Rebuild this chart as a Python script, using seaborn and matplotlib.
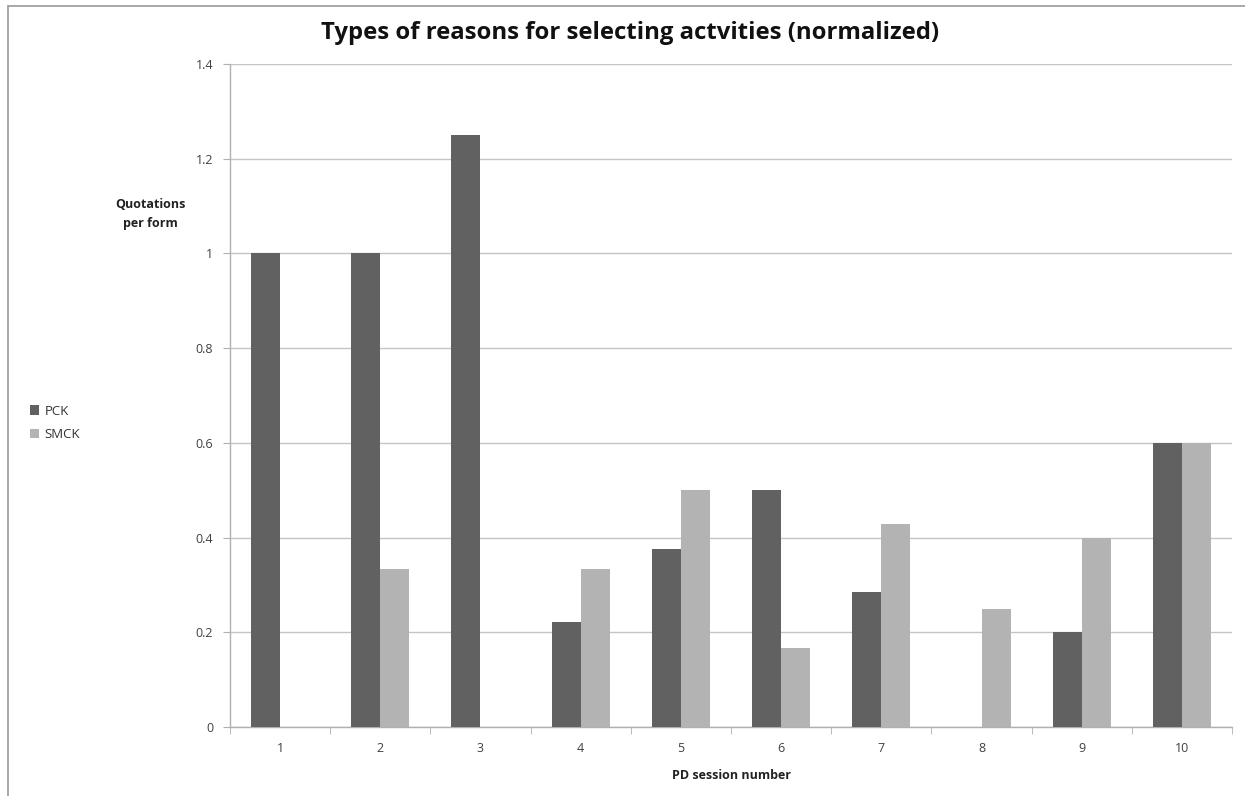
import pandas as pd
import numpy as np
import seaborn as sns
import matplotlib.pyplot as plt
from matplotlib.lines import Line2D

# Chart data
sessions = ['1', '2', '3', '4', '5', '6', '7', '8', '9', '10']
pck = [1.0, 1.0, 1.25, 0.222, 0.375, 0.5, 0.286, 0.0, 0.2, 0.6]
smck = [0.0, 0.333, 0.0, 0.333, 0.5, 0.167, 0.429, 0.25, 0.4, 0.6]
series_names = ['PCK', 'SMCK']
y_ticks = [0, 0.2, 0.4, 0.6, 0.8, 1, 1.2, 1.4]

df = pd.DataFrame({
    'session': sessions * 2,
    'value': pck + smck,
    'type': [series_names[0]] * len(sessions) + [series_names[1]] * len(sessions),
})

sns.set_style('white')
plt.rcParams['font.family'] = ['Open Sans', 'DejaVu Sans']

fig = plt.figure(figsize=(12.45, 7.96), dpi=100)
ax = fig.add_axes([0.1847, 0.0867, 0.8049, 0.8329])

palette = {'PCK': '#616161', 'SMCK': '#b3b3b3'}
sns.barplot(data=df, x='session', y='value', hue='type', order=sessions,
            hue_order=series_names, palette=palette, width=0.58,
            saturation=1, edgecolor='none', legend=True, ax=ax, zorder=3)

ax.set_ylim(0, 1.4)
ax.set_xlim(-0.5, len(sessions) - 0.5)
ax.set_yticks(y_ticks)
ax.set_yticklabels(['0', '0.2', '0.4', '0.6', '0.8', '1', '1.2', '1.4'])
ax.yaxis.grid(True, color='#c4c4c4', linewidth=1, zorder=0)
ax.set_axisbelow(True)

# ticks between categories
ax.set_xticks(np.arange(-0.5, len(sessions)), minor=True)
ax.tick_params(axis='x', which='major', length=0, pad=11, labelsize=9, labelcolor='#404040')
ax.tick_params(axis='x', which='minor', length=5, color='#b0b0b0', direction='out', bottom=True)
ax.tick_params(axis='y', length=5, color='#b0b0b0', direction='out', left=True,
               labelsize=9, labelcolor='#404040', pad=7)

for side in ['top', 'right']:
    ax.spines[side].set_visible(False)
for side in ['left', 'bottom']:
    ax.spines[side].set_color('#b0b0b0')
    ax.spines[side].set_linewidth(1)

ax.set_xlabel('PD session number', fontsize=9, fontweight='bold', color='#222222', labelpad=10)
ax.set_ylabel('')
fig.text(150 / 1245, 1 - 214 / 796, 'Quotations\nper form', ha='center', va='center',
         fontsize=9, fontweight='bold', color='#222222', linespacing=1.6)

fig.suptitle('Types of reasons for selecting actvities (normalized)', x=630 / 1245,
             y=1 - 33 / 796, va='center', fontsize=17.2, fontweight='bold', color='#111111')

leg = ax.legend(loc='center left', bbox_to_anchor=(18 / 1245, 1 - 423 / 796),
                bbox_transform=fig.transFigure, frameon=False, fontsize=9.5,
                handlelength=0.7, handleheight=0.7, handletextpad=0.4, labelspacing=0.8)
for t in leg.get_texts():
    t.set_color('#333333')

# outer chart border
fig.add_artist(Line2D([8 / 1245, 1.0], [1 - 6 / 796, 1 - 6 / 796],
                      transform=fig.transFigure, color='#9a9a9a', linewidth=1.2))
fig.add_artist(Line2D([8 / 1245, 8 / 1245], [0.0, 1 - 6 / 796],
                      transform=fig.transFigure, color='#9a9a9a', linewidth=1.2))

fig.savefig('out.png', dpi=100, facecolor='white')
